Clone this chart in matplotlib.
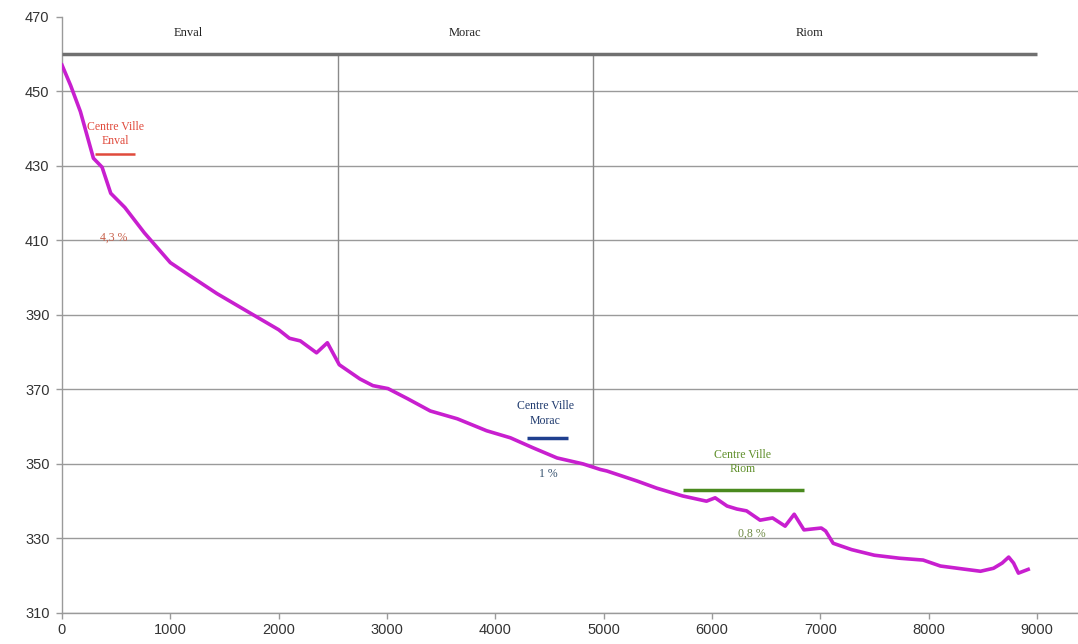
import numpy as np
import matplotlib
matplotlib.use("Agg")
import matplotlib.pyplot as plt

# Elevation profile data (distance in m, altitude in m)
distance = [0, 80, 170, 290, 370, 450, 580, 760, 1000, 1180, 1430, 1700, 2000, 2100,
            2200, 2350, 2450, 2560, 2640, 2750, 2870, 3010, 3190, 3400, 3650, 3920,
            4140, 4350, 4570, 4810, 4970, 5030, 5310, 5490, 5730, 5950, 6030, 6140,
            6230, 6320, 6445, 6560, 6676, 6760, 6850, 7010, 7050, 7120, 7290, 7500,
            7730, 7950, 8110, 8320, 8480, 8600, 8680, 8740, 8785, 8830, 8920]
altitude = [457, 451.5, 444.5, 432, 429.6, 422.6, 418.8, 412, 404, 400.5, 395.7, 391.1,
            386, 383.7, 383, 379.8, 382.5, 376.6, 375, 372.8, 371, 370.2, 367.5,
            364.2, 362.1, 358.9, 357, 354.3, 351.6, 350, 348.5, 348.1, 345.4, 343.5,
            341.4, 340, 340.9, 338.7, 337.9, 337.4, 334.9, 335.5, 333.3, 336.5, 332.3,
            332.8, 332, 328.7, 327, 325.5, 324.7, 324.2, 322.6, 321.8, 321.2, 322,
            323.4, 325, 323.4, 320.7, 321.7]

sections = ["Enval", "Morac", "Riom"]
section_label_x = [1170, 3720, 6900]
section_bounds = [0, 2550, 4900, 9000]
section_line_y = 460
section_label_y = 465.5

x_ticks = [0, 1000, 2000, 3000, 4000, 5000, 6000, 7000, 8000, 9000]
y_ticks = [310, 330, 350, 370, 390, 410, 430, 450, 470]

# annotations: text, x, y, color
centre_labels = [("Centre Ville\nEnval", 490, 438.5, "#e04a3c"),
                 ("Centre Ville\nMorac", 4460, 363.5, "#1f3a6e"),
                 ("Centre Ville\nRiom", 6280, 350.5, "#5f8f2a")]
centre_bars = [(305, 675, 433.1, "#e04a3c", 1.8),
               (4295, 4670, 357.0, "#1f3f8f", 2.5),
               (5735, 6850, 343.0, "#4a8a1e", 2.5)]
slope_labels = [("4,3 %", 480, 410.6, "#c8604a"),
                ("1 %", 4490, 347.3, "#34506e"),
                ("0,8 %", 6370, 331.2, "#6f8a45")]

W, H = 1078, 644
fig = plt.figure(figsize=(W / 100, H / 100), dpi=100)
ax = fig.add_axes([62 / W, 31 / H, (1078 - 62) / W, 596.4 / H])
ax.set_xlim(0, 9380)
ax.set_ylim(310, 470)

ax.set_xticks(x_ticks)
ax.set_yticks(y_ticks)
ax.yaxis.grid(True, color="#9a9a9a", lw=1.0)
ax.set_axisbelow(True)
ax.get_ygridlines()[-1].set_visible(False)
for s in ["top", "right"]:
    ax.spines[s].set_visible(False)
for s in ["left", "bottom"]:
    ax.spines[s].set_color("#9a9a9a")
    ax.spines[s].set_linewidth(1.0)
ax.tick_params(axis="both", colors="#9a9a9a", labelcolor="#333333",
               labelsize=10.5, length=4, width=1)
ax.tick_params(axis="x", pad=3)
ax.tick_params(axis="y", pad=5)
for lab in ax.get_xticklabels() + ax.get_yticklabels():
    lab.set_family("Liberation Sans")

# sections
ax.plot([section_bounds[0], section_bounds[-1]], [section_line_y, section_line_y],
        color="#707070", lw=2.5, solid_capstyle="butt", zorder=3)
for b in section_bounds[1:-1]:
    bottom = np.interp(b, distance, altitude)
    ax.plot([b, b], [bottom, section_line_y], color="#8a8a8a", lw=1.0, zorder=2)
for name, sx in zip(sections, section_label_x):
    ax.text(sx, section_label_y, name, ha="center", va="center", fontsize=9,
            family="Liberation Serif", color="#222222")

# profile
ax.plot(distance, altitude, color="#c81fcf", lw=2.6, zorder=4,
        solid_joinstyle="round")

for txt, tx, ty, c in centre_labels:
    ax.text(tx, ty, txt, ha="center", va="center", fontsize=8.5,
            family="Liberation Serif", color=c, linespacing=1.25, zorder=5)
for x0, x1, yb, c, lw in centre_bars:
    ax.plot([x0, x1], [yb, yb], color=c, lw=lw, solid_capstyle="butt", zorder=5)
for txt, tx, ty, c in slope_labels:
    ax.text(tx, ty, txt, ha="center", va="center", fontsize=8.5,
            family="Liberation Serif", color=c, zorder=5)

fig.savefig("out.png", dpi=100)
